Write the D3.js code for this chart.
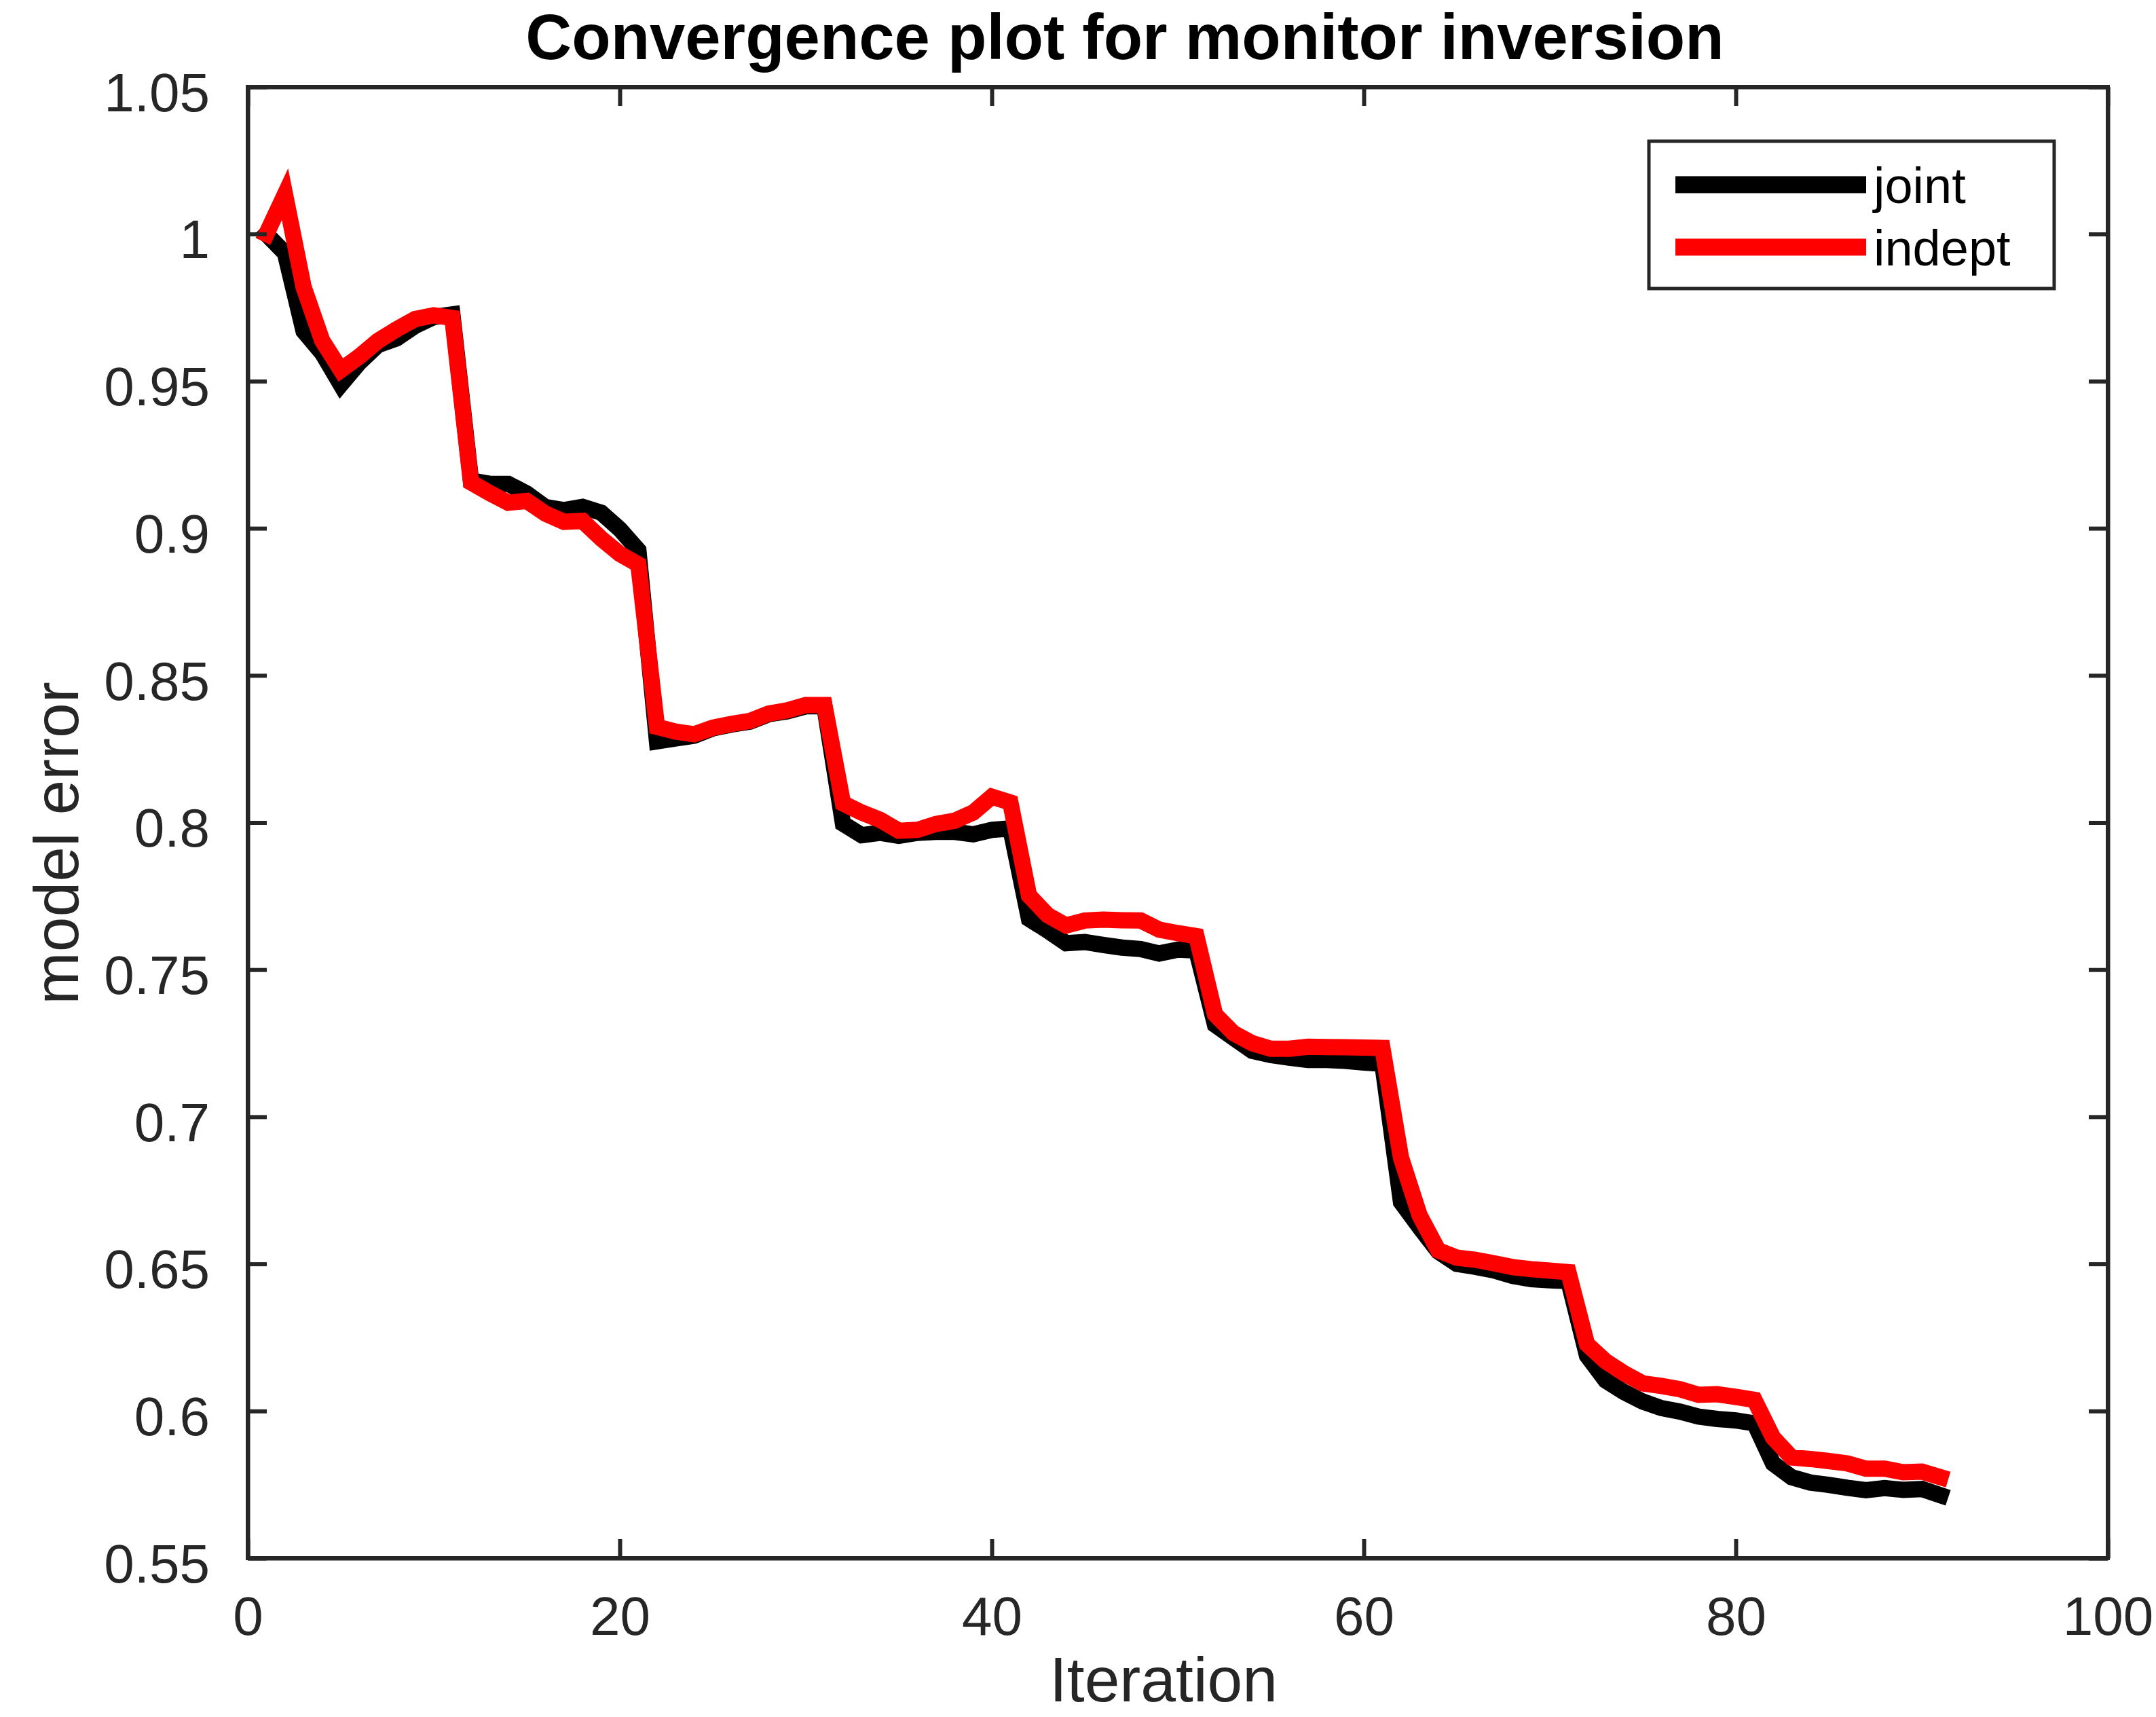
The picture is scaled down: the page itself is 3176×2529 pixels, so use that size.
<!DOCTYPE html>
<html>
<head>
<meta charset="utf-8">
<script src="https://cdn.jsdelivr.net/npm/d3@7"></script>
<style>
  body { margin: 0; background: #fff; }
  text { font-family: "Liberation Sans", Arial, Helvetica, sans-serif; }
</style>
</head>
<body>
<div id="chart"></div>
<script>
// Convergence plot data (model error per iteration, iterations start at 1)
const jointError = [
  1.0, 0.9935, 0.967, 0.9595, 0.9488, 0.9563, 0.9623, 0.9645, 0.9688, 0.9718,
  0.9727, 0.9162, 0.9151, 0.9151, 0.9118, 0.9072, 0.9062, 0.9073, 0.9053, 0.8997,
  0.8925, 0.8276, 0.8286, 0.8295, 0.832, 0.8333, 0.8343, 0.8368, 0.8378, 0.8395,
  0.8395, 0.7996, 0.7957, 0.7965, 0.7955, 0.7965, 0.7968, 0.7968, 0.796, 0.7975,
  0.798, 0.7673, 0.7633, 0.759, 0.7594, 0.7584, 0.7575, 0.757, 0.7555, 0.7568,
  0.7565, 0.7313, 0.7268, 0.7224, 0.721, 0.7201, 0.7193, 0.7193, 0.719, 0.7184,
  0.718, 0.671, 0.6624, 0.6542, 0.65, 0.649, 0.6478, 0.6459, 0.6448, 0.6444,
  0.6442, 0.6188, 0.6104, 0.6064, 0.6032, 0.601, 0.5998, 0.5981, 0.5973, 0.5968,
  0.5958, 0.5822, 0.5775, 0.5757, 0.5749, 0.5739, 0.5731, 0.5738, 0.5732, 0.5735,
  0.5714
];
const indeptError = [
  1.0, 1.0135, 0.982, 0.9638, 0.9538, 0.9584, 0.9637, 0.9676, 0.9711, 0.9724,
  0.9715, 0.9156, 0.912, 0.9087, 0.9093, 0.905, 0.9022, 0.9025, 0.8965, 0.8913,
  0.8877, 0.8325, 0.8309, 0.83, 0.8322, 0.8335, 0.8345, 0.837, 0.8381, 0.8399,
  0.8399, 0.8065, 0.8034, 0.8009, 0.7972, 0.7975, 0.7995, 0.8006, 0.8034, 0.8088,
  0.8068, 0.7752, 0.7685, 0.765, 0.7667, 0.767, 0.7668, 0.7667, 0.7636, 0.7624,
  0.7614, 0.7348, 0.7284, 0.725, 0.7231, 0.7231, 0.7238, 0.7237, 0.7236, 0.7235,
  0.7234, 0.6861, 0.6665, 0.6546, 0.6521, 0.6514, 0.6502, 0.6489, 0.6482, 0.6477,
  0.6472, 0.6227, 0.6169, 0.6128, 0.6094, 0.6085, 0.6074, 0.6055, 0.6057, 0.6048,
  0.6038, 0.591, 0.5842, 0.5837, 0.583, 0.5822, 0.5804, 0.5804, 0.5792, 0.5794,
  0.5775
];
const seriesNames = ["joint", "indept"];
const xTicks = [0, 20, 40, 60, 80, 100];
const yTicks = [0.55, 0.6, 0.65, 0.7, 0.75, 0.8, 0.85, 0.9, 0.95, 1, 1.05];
const yTickLabels = ["0.55", "0.6", "0.65", "0.7", "0.75", "0.8", "0.85", "0.9", "0.95", "1", "1.05"];

const width = 3176;
const height = 2529;
const margin = { top: 128, right: 71, bottom: 234, left: 365 };
const axisColor = "#262626";
const lineColors = { joint: "#000000", indept: "#ff0000" };

const svg = d3.select("#chart")
  .append("svg")
  .attr("width", width)
  .attr("height", height);

const x = d3.scaleLinear()
  .domain([0, 100])
  .range([margin.left, width - margin.right]);

const y = d3.scaleLinear()
  .domain([0.55, 1.05])
  .range([height - margin.bottom, margin.top]);

// data lines (drawn first so the box sits on top)
const line = d3.line()
  .x((d, i) => x(i + 1))
  .y(d => y(d));

const series = [
  { name: "joint", values: jointError },
  { name: "indept", values: indeptError }
];

svg.selectAll(".series")
  .data(series)
  .enter()
  .append("path")
  .attr("class", "series")
  .attr("d", d => line(d.values))
  .attr("fill", "none")
  .attr("stroke", d => lineColors[d.name])
  .attr("stroke-width", 24)
  .attr("stroke-linejoin", "miter")
  .attr("stroke-miterlimit", 10)
  .attr("stroke-linecap", "square");

// axes, ticks pointing inward on all four sides
const tickLen = 28;
const styleAxis = g => {
  g.selectAll(".domain").attr("stroke", axisColor).attr("stroke-width", 6);
  g.selectAll(".tick line").attr("stroke", axisColor).attr("stroke-width", 6);
  g.selectAll(".tick text")
    .attr("fill", axisColor)
    .style("font-size", "80px")
    .style("font-family", "'Liberation Sans', Arial, Helvetica, sans-serif");
};

svg.append("g")
  .attr("transform", `translate(0, ${height - margin.bottom})`)
  .call(d3.axisBottom(x).tickValues(xTicks).tickSizeInner(-tickLen).tickSizeOuter(0).tickPadding(56))
  .call(styleAxis);

svg.append("g")
  .attr("transform", `translate(0, ${margin.top})`)
  .call(d3.axisTop(x).tickValues(xTicks).tickSizeInner(-tickLen).tickSizeOuter(0).tickFormat(""))
  .call(styleAxis);

svg.append("g")
  .attr("transform", `translate(${margin.left}, 0)`)
  .call(d3.axisLeft(y).tickValues(yTicks).tickSizeInner(-tickLen).tickSizeOuter(0)
    .tickPadding(56).tickFormat((d, i) => yTickLabels[i]))
  .call(styleAxis)
  .call(g => g.selectAll(".tick text").attr("dy", "0.44em"));

svg.append("g")
  .attr("transform", `translate(${width - margin.right}, 0)`)
  .call(d3.axisRight(y).tickValues(yTicks).tickSizeInner(-tickLen).tickSizeOuter(0).tickFormat(""))
  .call(styleAxis);

// box around the plot area
svg.append("rect")
  .attr("x", margin.left)
  .attr("y", margin.top)
  .attr("width", width - margin.left - margin.right)
  .attr("height", height - margin.top - margin.bottom)
  .attr("fill", "none")
  .attr("stroke", axisColor)
  .attr("stroke-width", 6);

// title and axis labels
svg.append("text")
  .attr("x", 1657)
  .attr("y", 87)
  .attr("text-anchor", "middle")
  .style("font-size", "94px")
  .style("font-weight", "bold")
  .attr("fill", "#000")
  .text("Convergence plot for monitor inversion");

svg.append("text")
  .attr("x", 1714)
  .attr("y", 2506)
  .attr("text-anchor", "middle")
  .style("font-size", "93px")
  .attr("fill", axisColor)
  .text("Iteration");

svg.append("text")
  .attr("transform", "translate(115, 1242) rotate(-90)")
  .attr("text-anchor", "middle")
  .style("font-size", "93px")
  .attr("fill", axisColor)
  .text("model error");

// legend
const legend = svg.append("g");
legend.append("rect")
  .attr("x", 2429)
  .attr("y", 208)
  .attr("width", 597)
  .attr("height", 217)
  .attr("fill", "#fff")
  .attr("stroke", axisColor)
  .attr("stroke-width", 5);

const legendRows = legend.selectAll(".row")
  .data(seriesNames)
  .enter()
  .append("g")
  .attr("class", "row")
  .attr("transform", (d, i) => `translate(0, ${272 + i * 92})`);

legendRows.append("line")
  .attr("x1", 2468)
  .attr("x2", 2749)
  .attr("stroke", d => lineColors[d])
  .attr("stroke-width", 25);

legendRows.append("text")
  .attr("x", 2760)
  .attr("y", 27)
  .style("font-size", "74px")
  .attr("fill", "#000")
  .text(d => d);
</script>
</body>
</html>
